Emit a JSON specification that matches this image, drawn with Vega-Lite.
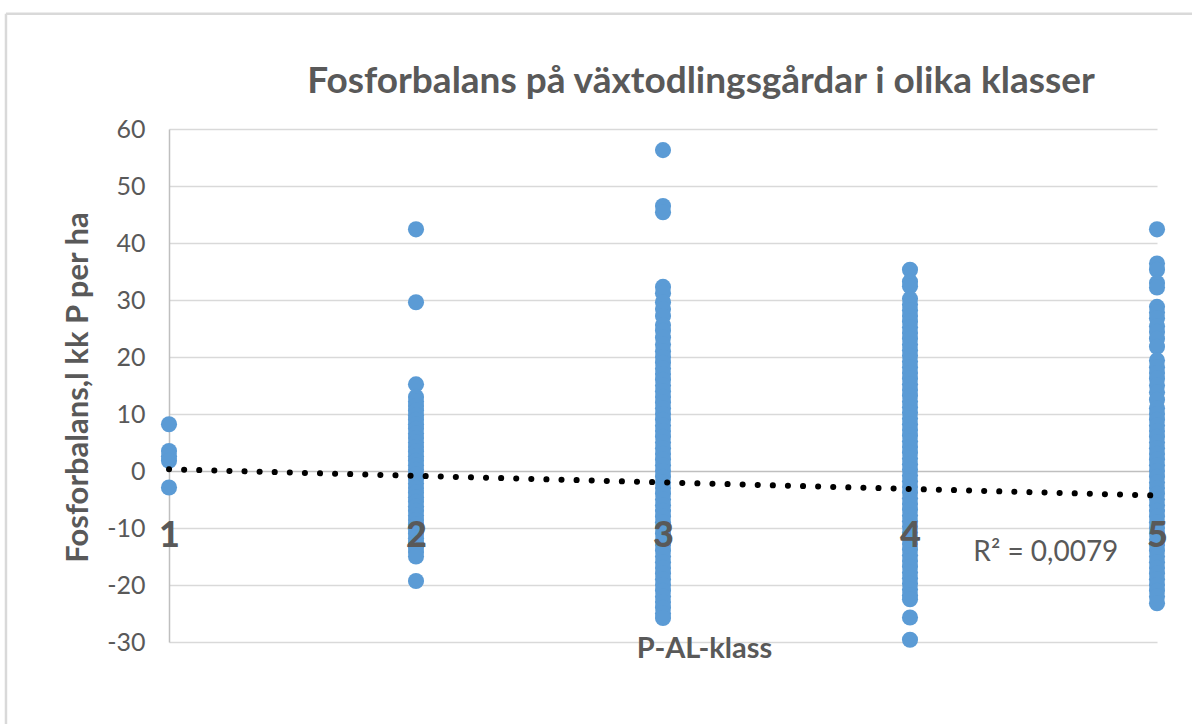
{
  "$schema": "https://vega.github.io/schema/vega-lite/v6.json",
  "width": 988,
  "height": 513,
  "autosize": {"type": "none"},
  "padding": {"left": 169, "top": 129, "right": 35, "bottom": 82},
  "background": "white",
  "config": {"view": {"stroke": null}, "font": "Lato"},
  "title": {
    "text": "Fosforbalans på växtodlingsgårdar i olika klasser",
    "fontSize": 37,
    "fontWeight": "bold",
    "color": "#595959",
    "anchor": "middle",
    "frame": "group",
    "dx": 38,
    "baseline": "alphabetic",
    "offset": -121
  },
  "datasets": {
    "points": [
      {"klass": 1, "balans": 8.2}, {"klass": 1, "balans": 3.5}, {"klass": 1, "balans": 2.6}, {"klass": 1, "balans": 1.8}, {"klass": 1, "balans": -2.9},
      {"klass": 2, "balans": 42.4}, {"klass": 2, "balans": 29.6}, {"klass": 2, "balans": 15.2}, {"klass": 2, "balans": 13.0}, {"klass": 2, "balans": 12.2},
      {"klass": 2, "balans": 11.4}, {"klass": 2, "balans": 10.6}, {"klass": 2, "balans": 9.8}, {"klass": 2, "balans": 9.0}, {"klass": 2, "balans": 8.2},
      {"klass": 2, "balans": 7.4}, {"klass": 2, "balans": 6.6}, {"klass": 2, "balans": 5.8}, {"klass": 2, "balans": 5.0}, {"klass": 2, "balans": 4.2},
      {"klass": 2, "balans": 3.4}, {"klass": 2, "balans": 2.6}, {"klass": 2, "balans": 1.8}, {"klass": 2, "balans": 1.0}, {"klass": 2, "balans": 0.2},
      {"klass": 2, "balans": -0.6}, {"klass": 2, "balans": -1.4}, {"klass": 2, "balans": -2.2}, {"klass": 2, "balans": -3.0}, {"klass": 2, "balans": -3.8},
      {"klass": 2, "balans": -4.6}, {"klass": 2, "balans": -5.4}, {"klass": 2, "balans": -6.2}, {"klass": 2, "balans": -7.0}, {"klass": 2, "balans": -7.8},
      {"klass": 2, "balans": -8.6}, {"klass": 2, "balans": -9.4}, {"klass": 2, "balans": -10.2}, {"klass": 2, "balans": -11.0}, {"klass": 2, "balans": -11.8},
      {"klass": 2, "balans": -12.6}, {"klass": 2, "balans": -13.4}, {"klass": 2, "balans": -14.2}, {"klass": 2, "balans": -15.0}, {"klass": 2, "balans": -19.3},
      {"klass": 3, "balans": 56.3}, {"klass": 3, "balans": 46.5}, {"klass": 3, "balans": 45.4}, {"klass": 3, "balans": 32.3}, {"klass": 3, "balans": 31.2},
      {"klass": 3, "balans": 29.6}, {"klass": 3, "balans": 28.4}, {"klass": 3, "balans": 27.2}, {"klass": 3, "balans": 25.6}, {"klass": 3, "balans": 24.6},
      {"klass": 3, "balans": 23.4}, {"klass": 3, "balans": 22.2}, {"klass": 3, "balans": 21.0}, {"klass": 3, "balans": 20.0}, {"klass": 3, "balans": 19.0},
      {"klass": 3, "balans": 18.0}, {"klass": 3, "balans": 17.0}, {"klass": 3, "balans": 16.0}, {"klass": 3, "balans": 15.0}, {"klass": 3, "balans": 14.0},
      {"klass": 3, "balans": 13.0}, {"klass": 3, "balans": 12.0}, {"klass": 3, "balans": 11.0}, {"klass": 3, "balans": 10.0}, {"klass": 3, "balans": 9.0},
      {"klass": 3, "balans": 8.0}, {"klass": 3, "balans": 7.0}, {"klass": 3, "balans": 6.0}, {"klass": 3, "balans": 5.0}, {"klass": 3, "balans": 4.0},
      {"klass": 3, "balans": 3.0}, {"klass": 3, "balans": 2.0}, {"klass": 3, "balans": 1.0}, {"klass": 3, "balans": 0.0}, {"klass": 3, "balans": -1.0},
      {"klass": 3, "balans": -2.0}, {"klass": 3, "balans": -3.0}, {"klass": 3, "balans": -4.0}, {"klass": 3, "balans": -5.0}, {"klass": 3, "balans": -6.0},
      {"klass": 3, "balans": -7.0}, {"klass": 3, "balans": -8.0}, {"klass": 3, "balans": -9.0}, {"klass": 3, "balans": -10.0}, {"klass": 3, "balans": -11.0},
      {"klass": 3, "balans": -12.0}, {"klass": 3, "balans": -13.0}, {"klass": 3, "balans": -14.0}, {"klass": 3, "balans": -15.0}, {"klass": 3, "balans": -16.0},
      {"klass": 3, "balans": -17.0}, {"klass": 3, "balans": -18.0}, {"klass": 3, "balans": -19.0}, {"klass": 3, "balans": -20.0}, {"klass": 3, "balans": -21.0},
      {"klass": 3, "balans": -22.0}, {"klass": 3, "balans": -23.0}, {"klass": 3, "balans": -24.0}, {"klass": 3, "balans": -25.0}, {"klass": 3, "balans": -25.8},
      {"klass": 4, "balans": 35.3}, {"klass": 4, "balans": 33.2}, {"klass": 4, "balans": 32.4}, {"klass": 4, "balans": 30.2}, {"klass": 4, "balans": 29.2},
      {"klass": 4, "balans": 28.2}, {"klass": 4, "balans": 27.2}, {"klass": 4, "balans": 26.2}, {"klass": 4, "balans": 25.2}, {"klass": 4, "balans": 24.2},
      {"klass": 4, "balans": 23.2}, {"klass": 4, "balans": 22.2}, {"klass": 4, "balans": 21.2}, {"klass": 4, "balans": 20.2}, {"klass": 4, "balans": 19.2},
      {"klass": 4, "balans": 18.2}, {"klass": 4, "balans": 17.2}, {"klass": 4, "balans": 16.2}, {"klass": 4, "balans": 15.2}, {"klass": 4, "balans": 14.2},
      {"klass": 4, "balans": 13.2}, {"klass": 4, "balans": 12.2}, {"klass": 4, "balans": 11.2}, {"klass": 4, "balans": 10.2}, {"klass": 4, "balans": 9.2},
      {"klass": 4, "balans": 8.2}, {"klass": 4, "balans": 7.2}, {"klass": 4, "balans": 6.2}, {"klass": 4, "balans": 5.2}, {"klass": 4, "balans": 4.2},
      {"klass": 4, "balans": 3.2}, {"klass": 4, "balans": 2.2}, {"klass": 4, "balans": 1.2}, {"klass": 4, "balans": 0.2}, {"klass": 4, "balans": -0.8},
      {"klass": 4, "balans": -1.8}, {"klass": 4, "balans": -2.8}, {"klass": 4, "balans": -3.8}, {"klass": 4, "balans": -4.8}, {"klass": 4, "balans": -5.8},
      {"klass": 4, "balans": -6.8}, {"klass": 4, "balans": -7.8}, {"klass": 4, "balans": -8.8}, {"klass": 4, "balans": -9.8}, {"klass": 4, "balans": -10.8},
      {"klass": 4, "balans": -11.8}, {"klass": 4, "balans": -12.8}, {"klass": 4, "balans": -13.8}, {"klass": 4, "balans": -14.8}, {"klass": 4, "balans": -15.8},
      {"klass": 4, "balans": -16.8}, {"klass": 4, "balans": -17.8}, {"klass": 4, "balans": -18.8}, {"klass": 4, "balans": -19.8}, {"klass": 4, "balans": -20.8},
      {"klass": 4, "balans": -21.8}, {"klass": 4, "balans": -22.5}, {"klass": 4, "balans": -25.7}, {"klass": 4, "balans": -29.6},
      {"klass": 5, "balans": 42.4}, {"klass": 5, "balans": 36.4}, {"klass": 5, "balans": 35.3}, {"klass": 5, "balans": 33.0}, {"klass": 5, "balans": 32.2},
      {"klass": 5, "balans": 28.8}, {"klass": 5, "balans": 27.8}, {"klass": 5, "balans": 26.8}, {"klass": 5, "balans": 25.4}, {"klass": 5, "balans": 24.4},
      {"klass": 5, "balans": 23.2}, {"klass": 5, "balans": 21.8}, {"klass": 5, "balans": 19.4}, {"klass": 5, "balans": 18.2}, {"klass": 5, "balans": 17.2},
      {"klass": 5, "balans": 16.2}, {"klass": 5, "balans": 15.0}, {"klass": 5, "balans": 13.8}, {"klass": 5, "balans": 12.5}, {"klass": 5, "balans": 11.0},
      {"klass": 5, "balans": 10.0}, {"klass": 5, "balans": 9.0}, {"klass": 5, "balans": 8.0}, {"klass": 5, "balans": 7.0}, {"klass": 5, "balans": 6.0},
      {"klass": 5, "balans": 5.0}, {"klass": 5, "balans": 4.0}, {"klass": 5, "balans": 3.0}, {"klass": 5, "balans": 2.0}, {"klass": 5, "balans": 1.0},
      {"klass": 5, "balans": 0.0}, {"klass": 5, "balans": -1.0}, {"klass": 5, "balans": -2.0}, {"klass": 5, "balans": -3.0}, {"klass": 5, "balans": -4.0},
      {"klass": 5, "balans": -5.0}, {"klass": 5, "balans": -6.0}, {"klass": 5, "balans": -7.0}, {"klass": 5, "balans": -8.0}, {"klass": 5, "balans": -9.0},
      {"klass": 5, "balans": -10.0}, {"klass": 5, "balans": -11.0}, {"klass": 5, "balans": -12.0}, {"klass": 5, "balans": -13.0}, {"klass": 5, "balans": -14.0},
      {"klass": 5, "balans": -15.0}, {"klass": 5, "balans": -16.0}, {"klass": 5, "balans": -17.0}, {"klass": 5, "balans": -18.0}, {"klass": 5, "balans": -19.0},
      {"klass": 5, "balans": -20.0}, {"klass": 5, "balans": -21.0}, {"klass": 5, "balans": -22.0}, {"klass": 5, "balans": -23.2}
    ],
    "trend": [
      {"klass": 1, "balans": 0.3},
      {"klass": 5, "balans": -4.3}
    ],
    "label": [
      {"klass": 4.55, "balans": -14.3, "text": "R² = 0,0079"}
    ],
    "frameTop": [
      {"klass": 0.34, "balans": 80.2},
      {"klass": 5.3, "balans": 80.2}
    ],
    "frameLeft": [
      {"klass": 0.34, "balans": 80.2},
      {"klass": 0.34, "balans": -50}
    ]
  },
  "layer": [
    {
      "data": {"name": "frameTop"},
      "mark": {"type": "line", "color": "#d9d9d9", "strokeWidth": 2.5, "clip": false},
      "encoding": {
        "x": {"field": "klass", "type": "quantitative"},
        "y": {"field": "balans", "type": "quantitative"}
      }
    },
    {
      "data": {"name": "frameLeft"},
      "mark": {"type": "line", "color": "#d9d9d9", "strokeWidth": 2.5, "clip": false},
      "encoding": {
        "x": {"field": "klass", "type": "quantitative"},
        "y": {"field": "balans", "type": "quantitative"}
      }
    },
    {
      "data": {"name": "points"},
      "mark": {"type": "circle", "color": "#5b9bd5", "opacity": 1, "size": 260},
      "encoding": {
        "x": {
          "field": "klass",
          "type": "quantitative",
          "scale": {"domain": [1, 5], "nice": false, "zero": false},
          "axis": {
            "values": [1, 2, 3, 4, 5],
            "format": "d",
            "offset": -171,
            "zindex": 1,
            "domain": false,
            "ticks": false,
            "tickSize": 0,
            "grid": false,
            "labelFlush": false,
            "labelPadding": 64,
            "labelBaseline": "middle",
            "labelFontSize": 36,
            "labelFontWeight": 900,
            "labelColor": "#595959",
            "title": "P-AL-klass",
            "titleFontSize": 29,
            "titleFontWeight": "bold",
            "titleColor": "#595959",
            "titleBaseline": "middle",
            "titleX": 535,
            "titleY": 177
          }
        },
        "y": {
          "field": "balans",
          "type": "quantitative",
          "scale": {"domain": [-30, 60], "nice": false, "zero": false},
          "axis": {
            "values": [-30, -20, -10, 0, 10, 20, 30, 40, 50, 60],
            "labelExpr": "replace(datum.label, '−', '-')",
            "domain": true,
            "domainColor": "#bfbfbf",
            "domainWidth": 1.5,
            "ticks": false,
            "tickSize": 0,
            "grid": true,
            "gridColor": {"condition": {"test": "datum.value === 0", "value": "#bfbfbf"}, "value": "#d9d9d9"},
            "gridWidth": 1.5,
            "labelFlush": false,
            "labelPadding": 24,
            "labelFontSize": 25,
            "labelColor": "#595959",
            "title": "Fosforbalans,l kk P per ha",
            "titleFontSize": 31,
            "titleFontWeight": "bold",
            "titleColor": "#595959",
            "titleAngle": -90,
            "titleAlign": "center",
            "titleBaseline": "middle",
            "titleX": -91,
            "titleY": 258
          }
        }
      }
    },
    {
      "data": {"name": "trend"},
      "mark": {"type": "line", "color": "black", "strokeWidth": 6, "strokeCap": "round", "strokeDash": [0.1, 15]},
      "encoding": {
        "x": {"field": "klass", "type": "quantitative"},
        "y": {"field": "balans", "type": "quantitative"}
      }
    },
    {
      "data": {"name": "label"},
      "mark": {"type": "text", "fontSize": 28, "color": "#595959", "align": "center", "baseline": "middle"},
      "encoding": {
        "x": {"field": "klass", "type": "quantitative"},
        "y": {"field": "balans", "type": "quantitative"},
        "text": {"field": "text"}
      }
    }
  ]
}
